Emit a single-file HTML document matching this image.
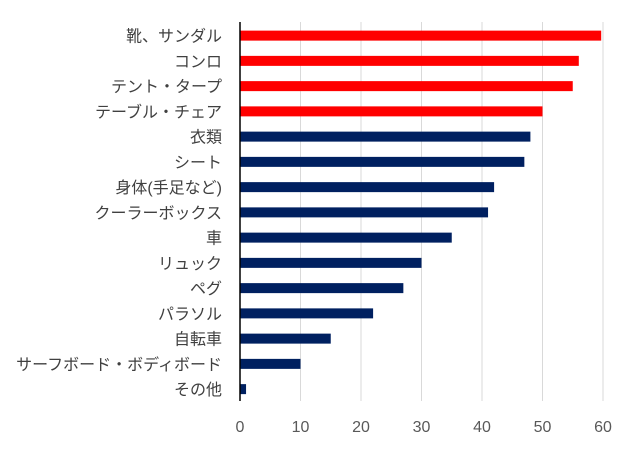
<!DOCTYPE html>
<html><head><meta charset="utf-8">
<style>
html,body{margin:0;padding:0;background:#fff;}
svg text{font-family:"Liberation Sans","Noto Sans CJK JP",sans-serif;}
</style></head>
<body>
<svg id="chart" width="641" height="450" xmlns="http://www.w3.org/2000/svg">
<rect width="641" height="450" fill="#fff"/>
<g id="grid"></g><g id="bars"></g><g id="labels"></g><g id="ticks"></g>
<line x1="240" y1="22" x2="240" y2="401" stroke="#000" stroke-width="1.5"/>
</svg>
<script>
const categories=["靴、サンダル","コンロ","テント・タープ","テーブル・チェア","衣類","シート","身体(手足など)","クーラーボックス","車","リュック","ペグ","パラソル","自転車","サーフボード・ボディボード","その他"];
const values=[59.7,56,55,50,48,47,42,41,35,30,27,22,15,10,1];
const highlighted=[true,true,true,true,false,false,false,false,false,false,false,false,false,false,false];
const tickValues=[0,10,20,30,40,50,60];
{
const NS="http://www.w3.org/2000/svg";
const x0=240,x1=603,xmax=60;
const xs=v=>x0+(x1-x0)*v/xmax;
const plotTop=23,step=25.25;
const yc=i=>plotTop+step*(i+0.5);
const g=document.getElementById('grid'),b=document.getElementById('bars'),l=document.getElementById('labels'),t=document.getElementById('ticks');
function mk(tag,attrs,parent){const e=document.createElementNS(NS,tag);for(const k in attrs)e.setAttribute(k,attrs[k]);parent.appendChild(e);return e;}
tickValues.forEach(v=>{
  if(v>0){const gl=mk('line',{x1:xs(v),x2:xs(v),y1:22,y2:401,stroke:'#d9d9d9','stroke-width':1},g);
  
  }
  const tx=mk('text',{x:xs(v),y:432,'text-anchor':'middle','font-size':16,fill:'#595959'},t);
  tx.textContent=v;
  
  
});
categories.forEach((c,i)=>{
  const r=mk('rect',{x:x0,y:yc(i)-5,width:xs(values[i])-x0,height:10,fill:highlighted[i]?'#ff0000':'#002060'},b);
  
  
  const tx=mk('text',{x:222,y:yc(i)+6,'text-anchor':'end','font-size':16,fill:'#404040'},l);
  tx.textContent=c;
  
  
});
}
</script>
</body></html>
